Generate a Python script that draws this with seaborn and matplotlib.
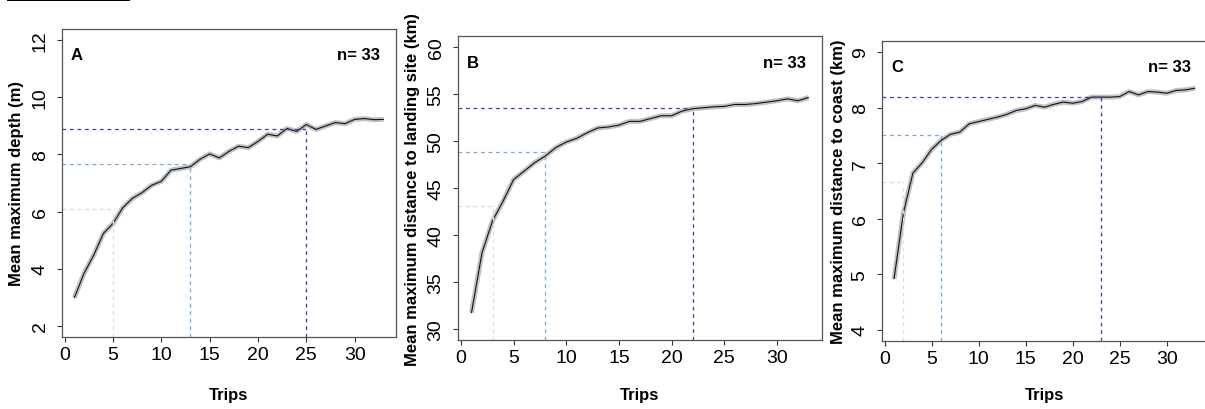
import numpy as np
import pandas as pd
import matplotlib
matplotlib.use("Agg")
import matplotlib.pyplot as plt
import seaborn as sns
from matplotlib.patches import Rectangle

sns.set_style("ticks")
plt.rcParams['font.family'] = ['Liberation Sans', 'DejaVu Sans']
plt.rcParams['text.color'] = 'black'
plt.rcParams['axes.labelcolor'] = 'black'

# Data
trips = list(range(1, 34))

depth = [2.98, 3.83, 4.47, 5.23, 5.58, 6.13, 6.46, 6.66, 6.92, 7.06, 7.45, 7.51, 7.57,
         7.83, 8.02, 7.88, 8.11, 8.29, 8.24, 8.46, 8.71, 8.65, 8.91, 8.81, 9.05, 8.88,
         9.00, 9.12, 9.08, 9.23, 9.26, 9.22, 9.23]

landing = [31.7, 38.1, 41.5, 43.6, 45.9, 46.8, 47.7, 48.4, 49.3, 49.9, 50.3, 50.9, 51.4,
           51.5, 51.7, 52.1, 52.1, 52.4, 52.7, 52.7, 53.2, 53.45, 53.55, 53.65, 53.7, 53.9,
           53.9, 54.0, 54.15, 54.3, 54.5, 54.3, 54.65]

coast = [4.92, 6.11, 6.82, 7.01, 7.25, 7.41, 7.52, 7.56, 7.71, 7.75, 7.79, 7.83, 7.88,
         7.95, 7.98, 8.04, 8.01, 8.06, 8.10, 8.08, 8.11, 8.19, 8.19, 8.19, 8.20, 8.29,
         8.23, 8.29, 8.28, 8.26, 8.31, 8.32, 8.35]

# Threshold guides (trip, value) for each panel
depth_trips = [5, 13, 25]
depth_levels = [6.1, 7.66, 8.9]
landing_trips = [3, 8, 22]
landing_levels = [43.1, 48.85, 53.5]
coast_trips = [2, 6, 23]
coast_levels = [6.66, 7.5, 8.19]

guide_colors = ['#c4e6ef', '#72a9dd', '#3d3da8']

panels = [
    dict(letter='A', y=depth, gt=depth_trips, gl=depth_levels, ylim=(1.6, 12.4),
         yticks=[2, 4, 6, 8, 10, 12], ylabel='Mean maximum depth (m)',
         rect=[62, 30, 396, 338], ylab_x=17),
    dict(letter='B', y=landing, gt=landing_trips, gl=landing_levels, ylim=(28.8, 61.2),
         yticks=[30, 35, 40, 45, 50, 55, 60],
         ylabel='Mean maximum distance to landing site (km)',
         rect=[458, 37, 822, 341], ylab_x=413),
    dict(letter='C', y=coast, gt=coast_trips, gl=coast_levels, ylim=(3.8, 9.2),
         yticks=[4, 5, 6, 7, 8, 9], ylabel='Mean maximum distance to coast (km)',
         rect=[882, 42, 1207, 342], ylab_x=838),
]

W, H = 1205, 410
fig = plt.figure(figsize=(W / 100, H / 100), dpi=100)
xlim = (-0.28, 34.28)

for p in panels:
    l, t, r, b = p['rect']
    ax = fig.add_axes([l / W, (H - b) / H, (r - l) / W, (b - t) / H])
    df = pd.DataFrame({'Trips': trips, 'value': p['y']})

    # grey band under the mean curve
    sns.lineplot(data=df, x='Trips', y='value', ax=ax, color='#c2c2c2', lw=3.6,
                 solid_capstyle='butt')
    sns.lineplot(data=df, x='Trips', y='value', ax=ax, color='#111111', lw=0.8)

    ax.set_xlim(xlim)
    ax.set_ylim(p['ylim'])

    for tr, lv, c in zip(p['gt'], p['gl'], guide_colors):
        ax.hlines(lv, xlim[0], tr, colors=c, linestyles=(0, (3, 3)), lw=0.9)
        ax.vlines(tr, p['ylim'][0], lv, colors=c, linestyles=(0, (3, 3)), lw=0.9)

    ax.set_xticks([0, 5, 10, 15, 20, 25, 30])
    ax.set_yticks(p['yticks'])
    ax.tick_params(axis='both', direction='out', length=3.6, width=0.8,
                   color='#333333', labelsize=14, labelcolor='black',
                   bottom=True, left=True)
    ax.tick_params(axis='x', pad=3)
    ax.tick_params(axis='y', pad=6, labelrotation=90)
    for lab in ax.get_yticklabels():
        lab.set_va('center')

    for s in ax.spines.values():
        s.set_visible(True)
        s.set_color('#555555')
        s.set_linewidth(0.9)

    ax.set_xlabel('Trips', fontsize=12, fontweight='bold')
    ax.set_ylabel(p['ylabel'], fontsize=12, fontweight='bold')
    ax.xaxis.label.set_va('center')
    ax.yaxis.label.set_va('center')
    ax.xaxis.set_label_coords(0.5, (b - 396) / (b - t))
    ax.yaxis.set_label_coords((p['ylab_x'] - l) / (r - l), 0.5)

    ax.annotate(p['letter'], xy=(0, 1), xycoords='axes fraction', xytext=(9, -26),
                textcoords='offset pixels', ha='left', va='center',
                fontsize=12, fontweight='bold')
    ax.annotate('n= 33', xy=(1, 1), xycoords='axes fraction', xytext=(-16, -26),
                textcoords='offset pixels', ha='right', va='center',
                fontsize=12, fontweight='bold')

# black rule at the top-left corner
fig.add_artist(Rectangle((7 / W, 408 / H), 123 / W, 2 / H, transform=fig.transFigure,
                         color='black', lw=0))

fig.savefig('out.png', dpi=100)
